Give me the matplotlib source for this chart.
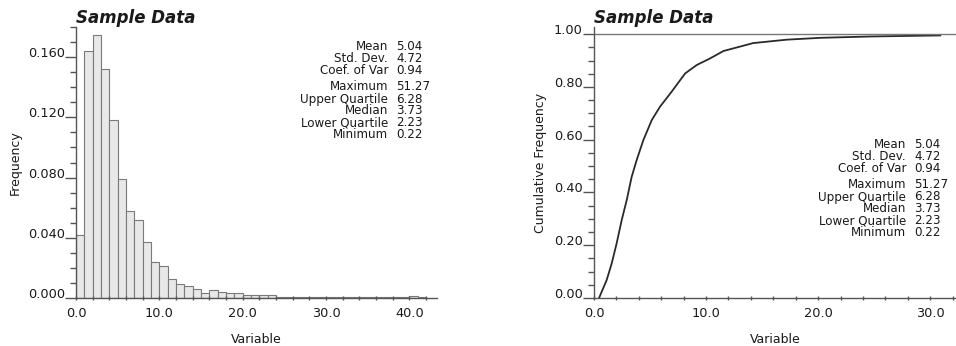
import matplotlib
matplotlib.use("Agg")
import matplotlib.pyplot as plt
import numpy as np

plt.rcParams['font.family'] = ['DejaVu Sans']

# ---------------- data ----------------
bin_edges_left = list(range(0, 42))  # 1-unit bins from 0 to 41
freq = [0.042, 0.164, 0.175, 0.152, 0.118, 0.079, 0.058, 0.052, 0.037, 0.024,
        0.021, 0.0126, 0.009, 0.008, 0.006, 0.003, 0.0052, 0.004, 0.003, 0.003,
        0.0019, 0.0019, 0.0019, 0.0019, 0.0008, 0.0006, 0.0006, 0.0006, 0.0006, 0.0006,
        0.0006, 0.0006, 0.0006, 0.0006, 0.0006, 0.0006, 0.0006, 0.0008, 0.0008, 0.0008,
        0.0016, 0.0004]

cdf_x = [0.45, 1.13, 1.58, 2.02, 2.47, 2.92, 3.36, 3.81, 4.40, 5.15, 5.89, 6.93,
         8.13, 9.17, 10.36, 11.55, 14.2, 17.2, 20.2, 24.6, 30.9]
cdf_y = [0.0, 0.068, 0.131, 0.207, 0.295, 0.371, 0.459, 0.523, 0.598, 0.674, 0.725,
         0.782, 0.851, 0.883, 0.908, 0.936, 0.966, 0.979, 0.986, 0.991, 0.995]

stat_names = ["Mean", "Std. Dev.", "Coef. of Var", "Maximum", "Upper Quartile",
              "Median", "Lower Quartile", "Minimum"]
stat_values = ["5.04", "4.72", "0.94", "51.27", "6.28", "3.73", "2.23", "0.22"]

title = "Sample Data"

# ---------------- figure ----------------
W, H = 956, 346
fig = plt.figure(figsize=(W / 100, H / 100), dpi=100)

axis_col = '#555555'
txt_col = '#1a1a1a'
TICK_FS = 9.3
LAB_FS = 9
STAT_FS = 8.6

def px_ax(l, r, b, t):
    return [l / W, (H - b) / H, (r - l) / W, (b - t) / H]

axL = fig.add_axes(px_ax(76, 437, 298, 27))
axR = fig.add_axes(px_ax(594, 956, 298, 27))

def style(ax):
    for s in ['top', 'right']:
        ax.spines[s].set_visible(False)
    for s in ['left', 'bottom']:
        ax.spines[s].set_color(axis_col)
        ax.spines[s].set_linewidth(1.0)
    ax.tick_params(axis='y', which='major', length=8, width=1.0, color=axis_col,
                   pad=0, labelsize=TICK_FS, labelcolor=txt_col, direction='out')
    ax.tick_params(axis='y', which='minor', length=4, width=1.0, color=axis_col, direction='out')
    ax.tick_params(axis='x', which='both', length=3, width=1.0, color=axis_col,
                   pad=5, labelsize=TICK_FS, labelcolor=txt_col, direction='inout')
    ax.set_facecolor('none')

# Left: histogram
widths = np.diff(bin_edges_left + [42])
axL.bar(bin_edges_left, freq, width=widths, align='edge', color='#e8e8e8',
        edgecolor='#7a7a7a', linewidth=0.8)
axL.set_xlim(0, 43.3)
axL.set_ylim(0, 0.18)
axL.set_yticks([0.0, 0.04, 0.08, 0.12, 0.16])
axL.set_yticklabels(["0.000", "0.040", "0.080", "0.120", "0.160"])
axL.set_yticks(np.arange(0, 0.181, 0.01), minor=True)
axL.set_xticks([0, 10, 20, 30, 40])
axL.set_xticklabels(["0.0", "10.0", "20.0", "30.0", "40.0"])
axL.set_xticks(np.arange(0, 43, 2), minor=True)
style(axL)
for lab in axL.get_yticklabels():
    lab.set_va('baseline')
axL.set_ylabel("Frequency", fontsize=LAB_FS, color=txt_col, labelpad=4)
axL.set_xlabel("Variable", fontsize=LAB_FS, color=txt_col, labelpad=9)
axL.text(0.0, 1.0, title, transform=axL.transAxes, fontsize=12, fontweight='bold',
         fontstyle='italic', ha='left', va='bottom', color=txt_col)

# Right: cumulative
axR.plot(cdf_x, cdf_y, color='#2a2a2a', linewidth=1.3, solid_joinstyle='round')
axR.axhline(1.0, color='#777777', linewidth=1.0)
axR.set_xlim(0, 32.3)
axR.set_ylim(0, 1.027)
axR.set_yticks([0.0, 0.2, 0.4, 0.6, 0.8, 1.0])
axR.set_yticklabels(["0.00", "0.20", "0.40", "0.60", "0.80", "1.00"])
axR.set_yticks(np.arange(0, 1.03, 0.05), minor=True)
axR.set_xticks([0, 10, 20, 30])
axR.set_xticklabels(["0.0", "10.0", "20.0", "30.0"])
axR.set_xticks(np.arange(0, 33, 2), minor=True)
style(axR)
for lab in axR.get_yticklabels():
    lab.set_va('baseline')
axR.set_ylabel("Cumulative Frequency", fontsize=LAB_FS, color=txt_col, labelpad=5)
axR.set_xlabel("Variable", fontsize=LAB_FS, color=txt_col, labelpad=9)
axR.text(0.0, 1.0, title, transform=axR.transAxes, fontsize=12, fontweight='bold',
         fontstyle='italic', ha='left', va='bottom', color=txt_col)

# stats text (pixel positions)
def stats(xsplit, ytop):
    ys = [0, 12, 25, 41, 53, 65, 77, 89]
    for name, val, dy in zip(stat_names, stat_values, ys):
        y = 1 - (ytop + dy) / H
        fig.text((xsplit - 4) / W, y, name, ha='right', va='center', fontsize=STAT_FS, color=txt_col)
        fig.text((xsplit + 4) / W, y, val, ha='left', va='center', fontsize=STAT_FS, color=txt_col)

stats(392, 46)
stats(910, 144)

fig.savefig("out.png", dpi=100)
